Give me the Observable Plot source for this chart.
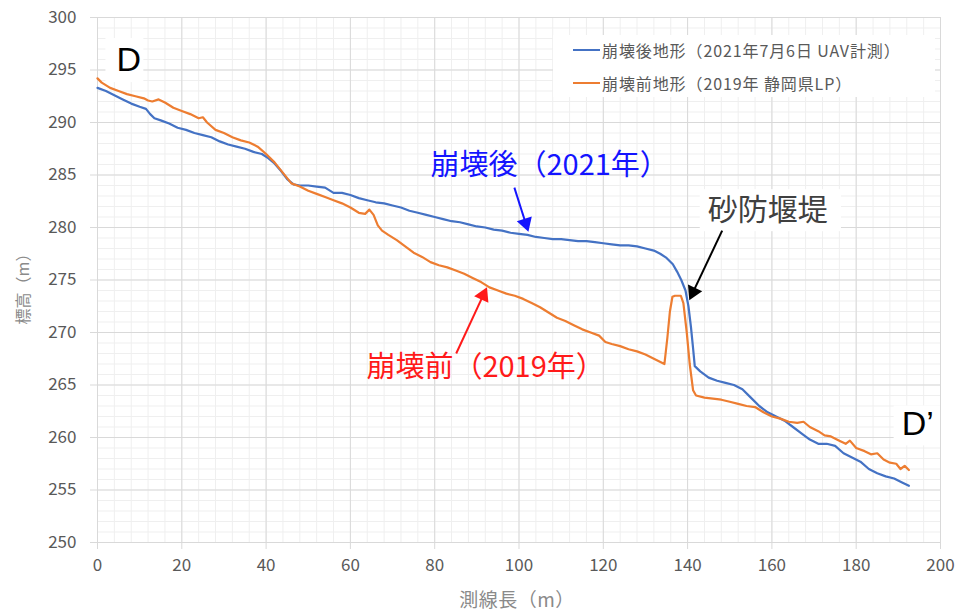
<!DOCTYPE html>
<html><head><meta charset="utf-8">
<script src="https://cdn.jsdelivr.net/npm/d3@7"></script>
<script src="https://cdn.jsdelivr.net/npm/@observablehq/plot@0.6"></script>
<style>
body{margin:0;background:#fff;font-family:"Noto Sans CJK JP",sans-serif;}
#wrap{position:relative;width:973px;height:615px;overflow:hidden;}
.legend{position:absolute;left:553px;top:35px;width:382px;height:62px;background:#fff;}
.item{position:absolute;left:20px;height:20px;display:flex;align-items:center;font-size:16px;letter-spacing:0.9px;color:#595959;white-space:nowrap;}
.sw{display:inline-block;width:27px;height:2.5px;margin-right:2px;}
.ytitle{position:absolute;left:22px;top:285px;transform:translate(-50%,-50%) rotate(-90deg);font-size:16px;color:#8a8a8a;white-space:nowrap;}
.xtitle{position:absolute;left:517px;top:598px;transform:translate(-50%,-50%);font-size:19px;letter-spacing:0.5px;color:#8a8a8a;white-space:nowrap;}
</style></head>
<body><div id="wrap"></div>
<script>
// ---- data ----
const afterDist = [0,2,4,6,8,10,11.5,12.5,13.5,15,17,19,21,23,25,27,29,31,33,35,37,39,40.5,42,43.5,45,46.5,48,50,52,54,56,58,60,62,64,66,68,70,72,74,76,78,80,82,84,86,88,90,92,94,96,98,100,102,104,106,108,110,112,114,116,118,120,122,124,126,128,130,132,133.5,135,136.5,137.5,138.5,139.5,140.2,140.8,141.3,141.7,143,145,147,149,151,153,155,157,159,161,163,165,167,169,171,173,175,177,179,181,183,185,187,189,191,192.5];
const afterElev = [293.3,293.0,292.6,292.2,291.8,291.5,291.3,290.8,290.4,290.2,289.9,289.5,289.3,289.0,288.8,288.6,288.2,287.9,287.7,287.5,287.2,287.0,286.6,286.1,285.4,284.6,284.1,284.0,284.0,283.9,283.8,283.3,283.3,283.1,282.8,282.6,282.4,282.3,282.1,281.9,281.6,281.4,281.2,281.0,280.8,280.6,280.5,280.3,280.1,280.0,279.8,279.7,279.5,279.4,279.3,279.1,279.0,278.9,278.9,278.8,278.7,278.7,278.6,278.5,278.4,278.3,278.3,278.2,278.0,277.8,277.5,277.1,276.5,275.8,275.0,274.0,272.5,270.5,268.5,266.8,266.3,265.7,265.4,265.2,265.0,264.6,263.8,263.0,262.4,262.0,261.6,261.0,260.4,259.8,259.4,259.4,259.2,258.5,258.1,257.7,257.0,256.6,256.3,256.1,255.7,255.4];
const beforeDist = [0,1,3,5,7,9,11,12,13,14.5,16,18,20,22,24,25,26,28,30,32,34,36,38,40,42,44,46,48,50,52,54,56,58,60,62,63.5,64.5,65.5,66.5,67.5,69,71,73,75,77,79,81,83,85,87,89,91,93,95,97,99,101,103,105,107,109,111,113,115,117,119,120.5,122,124,126,128,130,132,134.5,135.2,135.8,136.4,137,138.4,139,139.8,140.5,141.3,142,144,146,148,150,152,154,156,158,160,162,164,166,167.5,169,171,172.5,174,176,177.5,178.5,180,182,183.5,185,186.5,188,189.5,190.5,191.5,192.5];
const beforeElev = [294.2,293.8,293.3,293.0,292.7,292.5,292.3,292.1,292.0,292.2,291.9,291.4,291.1,290.8,290.4,290.5,290.0,289.3,289.0,288.6,288.3,288.1,287.7,287.0,286.2,285.2,284.2,283.9,283.5,283.2,282.9,282.6,282.3,281.9,281.4,281.3,281.7,281.2,280.2,279.7,279.3,278.8,278.2,277.6,277.2,276.7,276.4,276.2,275.9,275.6,275.2,274.8,274.3,274.0,273.7,273.5,273.2,272.8,272.4,271.9,271.4,271.1,270.7,270.3,270.0,269.7,269.1,268.9,268.7,268.4,268.2,267.9,267.5,267.0,269.5,272.0,273.4,273.5,273.5,272.8,270.0,267.0,264.5,264.0,263.8,263.7,263.6,263.4,263.2,263.0,262.9,262.4,262.0,261.8,261.5,261.4,261.5,261.0,260.6,260.2,260.1,259.7,259.4,259.7,259.0,258.7,258.4,258.5,257.9,257.6,257.5,257.0,257.3,256.9];
const xTicks = [0,20,40,60,80,100,120,140,160,180,200];
const yTicks = [250,255,260,265,270,275,280,285,290,295,300];
const xMinor = d3.range(0, 201, 4);
const yMinor = d3.range(250, 301, 1);
const xTitle = "測線長（m）";
const yTitle = "標高（m）";
const seriesNames = ["崩壊後地形（2021年7月6日 UAV計測）","崩壊前地形（2019年 静岡県LP）"];
const seriesColors = ["#4472C4","#ED7D31"];
const labels = [
  {text:"崩壊後（2021年）", x:79.0, y:285.9, color:"#1414ff", size:29},
  {text:"崩壊前（2019年）", x:63.8, y:266.6, color:"#ff1a1a", size:29},
  {text:"砂防堰堤", x:144.8, y:281.6, color:"#404040", size:30}
];
const letters = [{text:"D", x:7.4, y:295.9},{text:"D’", x:194.6, y:261.3}];
const boxes = [
  {x1:2.0,x2:11.0,y1:298.0,y2:293.8},
  {x1:189.0,x2:200,y1:263.0,y2:259.2},
  {x1:143.0,x2:176.5,y1:283.6,y2:279.6}
];
const arrows = [
  {x1:98.9,y1:283.8,x2:102.3,y2:279.5,color:"#1414ff"},
  {x1:85.1,y1:268.0,x2:92.5,y2:274.4,color:"#ff1a1a"},
  {x1:148.2,y1:279.7,x2:140.3,y2:273.0,color:"#000000"}
];

const after = afterDist.map((d,i)=>({d, e:afterElev[i]}));
const before = beforeDist.map((d,i)=>({d, e:beforeElev[i]}));

function build(extra){
  return Plot.plot({
    width:973, height:615,
    marginLeft:97, marginRight:33, marginTop:17, marginBottom:73,
    style:{fontFamily:'"Noto Sans CJK JP",sans-serif', background:"#fff"},
    x:{domain:[0,200]},
    y:{domain:[250,300]},
    marks:[
      Plot.ruleX(xMinor,{stroke:"#efefef"}),
      Plot.ruleY(yMinor,{stroke:"#efefef"}),
      Plot.ruleX(xTicks,{stroke:"#d9d9d9"}),
      Plot.ruleY(yTicks,{stroke:"#d9d9d9"}),
      Plot.rect(boxes,{x1:"x1",x2:"x2",y1:"y1",y2:"y2",fill:"white"}),
      Plot.axisX({ticks:xTicks, tickSize:7, tickPadding:9, stroke:"#d9d9d9", fill:"#595959", fontSize:17, label:null}),
      Plot.axisY({ticks:yTicks, tickSize:7, tickPadding:14, stroke:"#d9d9d9", fill:"#595959", fontSize:17, label:null}),
      Plot.line(after,{x:"d", y:"e", stroke:seriesColors[0], strokeWidth:2.2}),
      Plot.line(before,{x:"d", y:"e", stroke:seriesColors[1], strokeWidth:2.2}),
      ...labels.map(l=>Plot.text([l],{x:"x", y:"y", text:"text", fill:l.color, fontSize:l.size, textAnchor:"start", lineAnchor:"middle"})),
      Plot.text(letters,{x:"x", y:"y", text:"text", fill:"#000", fontSize:34, fontFamily:"Liberation Sans", lineAnchor:"middle"}),
      ...extra
    ]
  });
}

const probe = build([]);
const sx = probe.scale("x"), sy = probe.scale("y");
const extra = [];
for (const a of arrows){
  const px1 = sx.apply(a.x1), py1 = sy.apply(a.y1), px2 = sx.apply(a.x2), py2 = sy.apply(a.y2);
  const dx = px2-px1, dy = py2-py1, len = Math.hypot(dx,dy);
  const ux = dx/len, uy = dy/len;
  const cx = sx.invert(px2 - ux*10), cy = sy.invert(py2 - uy*10);
  const rot = Math.atan2(dx, -dy)*180/Math.PI;
  extra.push(Plot.link([a],{x1:"x1",y1:"y1",x2:d=>sx.invert(px2-ux*12),y2:d=>sy.invert(py2-uy*12),stroke:a.color,strokeWidth:2}));
  extra.push(Plot.dot([{cx,cy}],{x:"cx",y:"cy",symbol:"triangle2",r:7.5,fill:a.color,stroke:"none",rotate:rot}));
}
const chart = build(extra);
const wrap = document.getElementById("wrap");
wrap.appendChild(chart);
const lg = document.createElement("div");
lg.className = "legend";
seriesNames.forEach((n,i)=>{
  const it = document.createElement("div");
  it.className = "item";
  it.style.top = (i===0 ? 5 : 38) + "px";
  const sw = document.createElement("span");
  sw.className = "sw"; sw.style.background = seriesColors[i];
  it.appendChild(sw);
  it.appendChild(document.createTextNode(n));
  lg.appendChild(it);
});
wrap.appendChild(lg);
const yt = document.createElement("div"); yt.className = "ytitle"; yt.textContent = yTitle; wrap.appendChild(yt);
const xt = document.createElement("div"); xt.className = "xtitle"; xt.textContent = xTitle; wrap.appendChild(xt);
</script></body></html>
